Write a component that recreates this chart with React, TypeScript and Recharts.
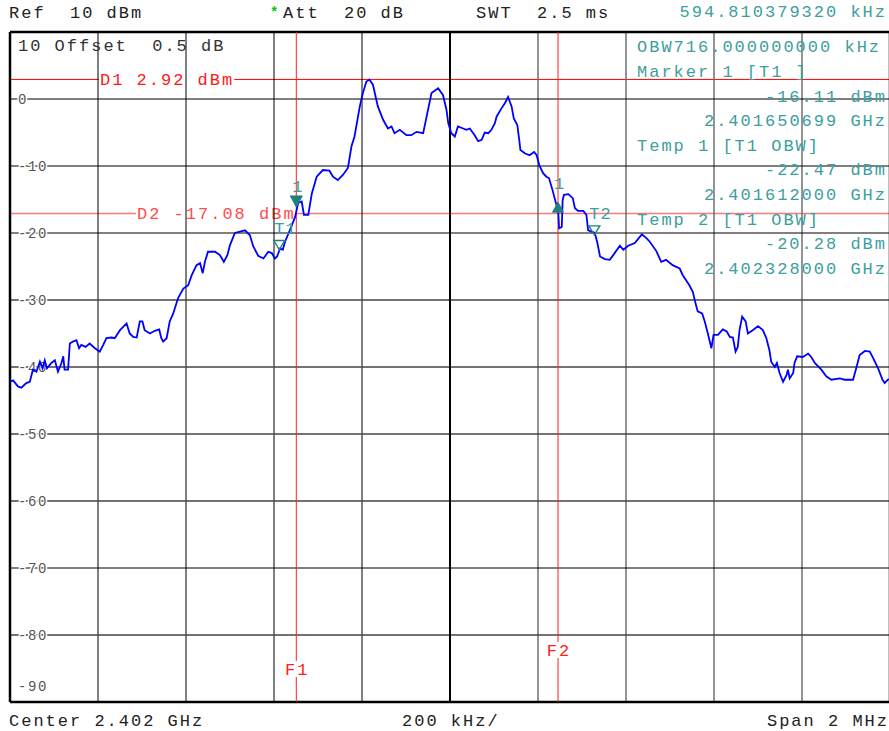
import { Line, LineChart, ReferenceDot, ReferenceLine, XAxis, YAxis } from "recharts";

// frequency offset from 2.401 GHz (kHz) and trace level (dBm)
const freqKHz = [
  0, 7, 18, 26, 37, 45, 49, 52, 60, 68, 74, 79, 84, 94, 102, 109, 117, 121, 124, 132,
  136, 143, 151, 157, 162, 172, 181, 193, 204, 212, 219, 231, 238, 250, 265, 272, 280, 288, 295, 301,
  306, 318, 329, 339, 344, 348, 356, 363, 371, 382, 394, 405, 413, 424, 432, 438, 443, 450, 466, 477,
  486, 494, 500, 511, 523, 534, 545, 553, 564, 576, 587, 595, 602, 607, 614, 620, 625, 636, 648, 655,
  663, 668, 678, 686, 697, 711, 726, 734, 745, 757, 768, 776, 783, 795, 802, 810, 817, 825, 836, 848,
  859, 867, 874, 886, 901, 912, 924, 939, 946, 958, 973, 984, 992, 996, 1003, 1011, 1018, 1030, 1037, 1045,
  1056, 1064, 1072, 1079, 1087, 1094, 1102, 1106, 1117, 1125, 1132, 1140, 1145, 1153, 1157, 1160, 1170, 1181, 1191, 1197,
  1203, 1212, 1219, 1225, 1233, 1241, 1246, 1248, 1254, 1256, 1259, 1269, 1279, 1284, 1291, 1303, 1310, 1314, 1322, 1329,
  1335, 1341, 1352, 1363, 1371, 1386, 1394, 1405, 1420, 1436, 1447, 1454, 1469, 1480, 1491, 1506, 1522, 1529, 1544, 1552,
  1558, 1563, 1573, 1579, 1586, 1594, 1599, 1609, 1620, 1629, 1636, 1643, 1649, 1654, 1658, 1664, 1672, 1677, 1688, 1700,
  1711, 1719, 1726, 1730, 1738, 1743, 1749, 1757, 1765, 1768, 1772, 1780, 1783, 1789, 1802, 1814, 1821, 1829, 1844, 1855,
  1867, 1886, 1897, 1916, 1924, 1931, 1943, 1954, 1962, 1973, 1983, 1988, 1995, 2000,
];
const levelDbm = [
  -42.2, -42.0, -42.9, -43.1, -42.4, -42.2, -41.2, -40.4, -40.7, -39.2, -40.2, -39.0, -40.2, -39.4, -39.0, -40.7, -39.4, -38.4, -40.4, -40.4,
  -36.5, -36.2, -36.0, -37.2, -36.7, -37.0, -36.5, -37.2, -37.7, -36.7, -35.7, -35.6, -35.7, -34.5, -33.5, -35.0, -35.5, -35.6, -33.2, -33.2,
  -34.5, -35.0, -34.6, -34.4, -35.7, -36.2, -35.7, -33.2, -32.0, -29.7, -28.3, -27.8, -26.3, -24.8, -24.5, -26.0, -24.3, -22.8, -22.8, -23.3,
  -24.3, -23.3, -21.8, -20.0, -19.8, -19.6, -20.3, -22.0, -23.4, -23.8, -22.8, -23.0, -23.8, -23.5, -22.3, -22.5, -21.3, -19.6, -17.6, -15.5,
  -15.3, -17.3, -17.3, -14.1, -11.6, -10.6, -10.7, -11.6, -12.1, -11.3, -10.3, -7.1, -5.6, -1.1, 0.9, 2.6, 2.9, 2.1, -1.1, -3.1,
  -4.4, -4.1, -5.1, -4.6, -5.4, -5.4, -4.9, -5.1, -2.9, 0.9, 1.6, 0.6, -1.6, -3.6, -5.1, -5.6, -4.1, -4.4, -4.6, -4.4,
  -5.4, -6.3, -6.1, -5.0, -5.1, -4.6, -3.6, -2.6, -1.4, -0.6, 0.3, -1.1, -2.9, -3.9, -5.9, -7.6, -8.1, -8.4, -7.9, -8.4,
  -9.9, -11.1, -11.6, -11.8, -13.6, -15.6, -16.8, -19.3, -19.1, -15.1, -14.3, -14.2, -14.8, -16.3, -16.7, -16.7, -17.3, -19.6, -19.8, -20.0,
  -21.5, -23.5, -23.9, -24.0, -23.3, -21.9, -22.5, -21.9, -21.5, -20.2, -20.8, -21.3, -22.7, -24.3, -24.0, -24.8, -25.3, -26.3, -27.8, -28.8,
  -30.5, -31.7, -32.0, -33.2, -35.0, -37.2, -35.2, -35.2, -34.4, -34.7, -35.5, -35.6, -37.7, -37.0, -34.5, -32.5, -33.2, -35.0, -34.5, -33.9,
  -34.5, -35.7, -37.5, -39.2, -40.0, -39.4, -40.9, -42.2, -41.2, -40.4, -41.7, -40.9, -39.4, -38.4, -38.5, -38.0, -38.5, -39.4, -40.4, -41.4,
  -41.9, -41.7, -41.9, -41.9, -40.0, -38.2, -37.6, -37.7, -38.7, -40.2, -41.9, -42.4, -41.9, -41.8,
];

const freqGrid = [200, 400, 600, 800, 1200, 1400, 1600, 1800];
const levelGrid = [0, -10, -20, -30, -40, -50, -60, -70, -80];

const displayLines = [
  { name: "D1", level: 2.92 },
  { name: "D2", level: -17.08 },
];
const freqLines = [
  { name: "F1", freq: 650.7 },
  { name: "F2", freq: 1245.5 },
];
const markers = [
  { name: "T1", freq: 612, level: -22.47, kind: "open" },
  { name: "1", freq: 650.7, level: -16.11, kind: "down" },
  { name: "1", freq: 1245.5, level: -15.4, kind: "up" },
  { name: "T2", freq: 1328, level: -20.28, kind: "open" },
];

const markerInfo = [
  "OBW716.000000000 kHz",
  "Marker 1 [T1 ]",
  "-16.11 dBm",
  "2.401650699 GHz",
  "Temp 1 [T1 OBW]",
  "-22.47 dBm",
  "2.401612000 GHz",
  "Temp 2 [T1 OBW]",
  "-20.28 dBm",
  "2.402328000 GHz",
];

const data = freqKHz.map((f, i) => ({ freq: f, level: levelDbm[i] }));

const MONO = "'Liberation Mono', 'Courier New', monospace";
const TEAL = "#3d9e9e";
const TEAL_DARK = "#1f8080";
const NB = "\u00a0";

const YTickLabel = ({ viewBox, text, dy = 0 }: any) => (
  <text
    x={viewBox.x + 8}
    y={viewBox.y + 4.6 + dy}
    fontFamily={MONO}
    fontSize={14}
    letterSpacing={1.6}
    fill="#555"
    stroke="#fff"
    strokeWidth={3}
    paintOrder="stroke"
  >
    {text}
  </text>
);

const DisplayLabel = ({ viewBox, text, dx, color }: any) => {
  const w = text.length * 12.2;
  return (
    <g>
      <rect x={viewBox.x + dx - 1} y={viewBox.y - 7} width={w + 1} height={14} fill="#fff" />
      <text x={viewBox.x + dx} y={viewBox.y + 5.6} fontFamily={MONO} fontSize={17} letterSpacing={2} fill={color}>
        {text}
      </text>
    </g>
  );
};

const FreqLabel = ({ viewBox, text, up }: any) => {
  const cy = viewBox.y + viewBox.height - up;
  return (
    <g>
      <rect x={viewBox.x - 13} y={cy - 8} width={26} height={16} fill="#fff" />
      <text
        x={viewBox.x + 1}
        y={cy + 5.6}
        textAnchor="middle"
        fontFamily={MONO}
        fontSize={17}
        letterSpacing={2}
        fill="#ff2020"
      >
        {text}
      </text>
    </g>
  );
};

const MarkerShape = ({ cx, cy, m }: any) => {
  if (m.kind === "up") {
    return (
      <g>
        <polygon points={`${cx - 5.5},${cy + 10} ${cx + 5.5},${cy + 10} ${cx},${cy}`} fill={TEAL_DARK} stroke={TEAL_DARK} />
        <text x={cx + 1} y={cy - 13.4} textAnchor="middle" fontFamily={MONO} fontSize={17} fill={TEAL}>
          {m.name}
        </text>
      </g>
    );
  }
  if (m.kind === "down") {
    return (
      <g>
        <polygon points={`${cx - 6},${cy - 11} ${cx + 6},${cy - 11} ${cx},${cy}`} fill={TEAL_DARK} stroke={TEAL_DARK} />
        <text x={cx + 1} y={cy - 15.4} textAnchor="middle" fontFamily={MONO} fontSize={17} fill={TEAL}>
          {m.name}
        </text>
      </g>
    );
  }
  return (
    <g>
      <polygon points={`${cx - 5.5},${cy - 9} ${cx + 5.5},${cy - 9} ${cx},${cy}`} fill="none" stroke={TEAL_DARK} strokeWidth={1.4} />
      <text x={cx - 5} y={cy - 16} fontFamily={MONO} fontSize={17} letterSpacing={1} fill={TEAL}>
        {m.name}
      </text>
    </g>
  );
};

const txt = { fontFamily: MONO, fontSize: 17, letterSpacing: 2 };

export default function App() {
  return (
    <div style={{ position: "relative", width: 889, height: 731, overflow: "hidden", background: "#fff" }}>
      <style>{"body{margin:0;overflow:hidden}"}</style>
      <LineChart width={892} height={731} data={data} margin={{ top: 32, right: 2, bottom: 29, left: 10 }}>
        <XAxis dataKey="freq" type="number" domain={[0, 2000]} hide />
        <YAxis type="number" domain={[-90, 10]} hide />
        {displayLines.map((d) => (
          <ReferenceLine
            key={d.name}
            y={d.level}
            stroke={d.name === "D1" ? "#ff0000" : "#f47c7c"}
            strokeWidth={d.name === "D1" ? 1 : 1.5}
            label={
              <DisplayLabel
                text={`${d.name} ${d.level.toFixed(2)} dBm`}
                dx={d.name === "D1" ? 90 : 127}
                color={d.name === "D1" ? "#ff1a1a" : "#ff4d4d"}
              />
            }
          />
        ))}
        {freqGrid.map((f) => (
          <ReferenceLine key={`v${f}`} x={f} stroke={f < 1000 ? "#000" : "#666"} strokeWidth={f < 1000 ? 1 : 1.4} />
        ))}
        {levelGrid.map((l) => (
          <ReferenceLine
            key={`h${l}`}
            y={l}
            stroke={l <= -30 && l !== -70 ? "#444" : "#000"}
            strokeWidth={l <= -30 && l !== -70 ? 1.3 : 1}
            label={<YTickLabel text={String(l)} />}
          />
        ))}
        <ReferenceLine x={1000} stroke="#000" strokeWidth={2} />
        <ReferenceLine x={0} stroke="#000" strokeWidth={2.5} />
        <ReferenceLine x={2000} stroke="#000" strokeWidth={2.5} />
        <ReferenceLine y={10} stroke="#000" strokeWidth={2.5} />
        <ReferenceLine y={-90} stroke="#000" strokeWidth={2.5} label={<YTickLabel text="-90" dy={-16} />} />
        {freqLines.map((f) => (
          <ReferenceLine
            key={f.name}
            x={f.freq}
            stroke="#ff2020"
            strokeWidth={1}
            label={<FreqLabel text={f.name} up={f.name === "F1" ? 33 : 52} />}
          />
        ))}
        <Line
          type="linear"
          dataKey="level"
          stroke="#0000ff"
          strokeWidth={1.8}
          dot={false}
          isAnimationActive={false}
        />
        {markers.map((m, i) => (
          <ReferenceDot
            key={i}
            x={m.freq}
            y={m.level}
            r={6}
            shape={(p: any) => <MarkerShape cx={p.cx} cy={p.cy} m={m} />}
          />
        ))}
      </LineChart>
      <svg
        width={889}
        height={731}
        style={{ position: "absolute", left: 0, top: 0, pointerEvents: "none" }}
      >
        <g fill="#222" style={txt}>
          <text x={9} y={17.6}>{`Ref${NB}${NB}10 dBm`}</text>
          <text x={283} y={17.6}>{`Att${NB}${NB}20 dB`}</text>
          <text x={476} y={17.6}>{`SWT${NB}${NB}2.5 ms`}</text>
          <text x={18} y={50.6} fill="#333">{`10 Offset${NB}${NB}0.5 dB`}</text>
          <text x={9} y={725.6}>Center 2.402 GHz</text>
          <text x={402} y={725.6}>200 kHz/</text>
          <text x={889} y={725.6} textAnchor="end">Span 2 MHz</text>
        </g>
        <text x={270} y={17} fill="#00cc00" fontFamily={MONO} fontSize={14} fontWeight="bold">*</text>
        <g fill={TEAL} style={txt}>
          <text x={887} y={17.3} textAnchor="end">594.810379320 kHz</text>
          {markerInfo.map((s, i) => {
            const y = 46.7 + i * 24.6 + 5.6;
            const left = i === 0 || s.startsWith("Marker") || s.startsWith("Temp");
            return left ? (
              <text key={i} x={637} y={y}>{s}</text>
            ) : (
              <text key={i} x={887} y={y} textAnchor="end">{s}</text>
            );
          })}
        </g>
      </svg>
    </div>
  );
}
